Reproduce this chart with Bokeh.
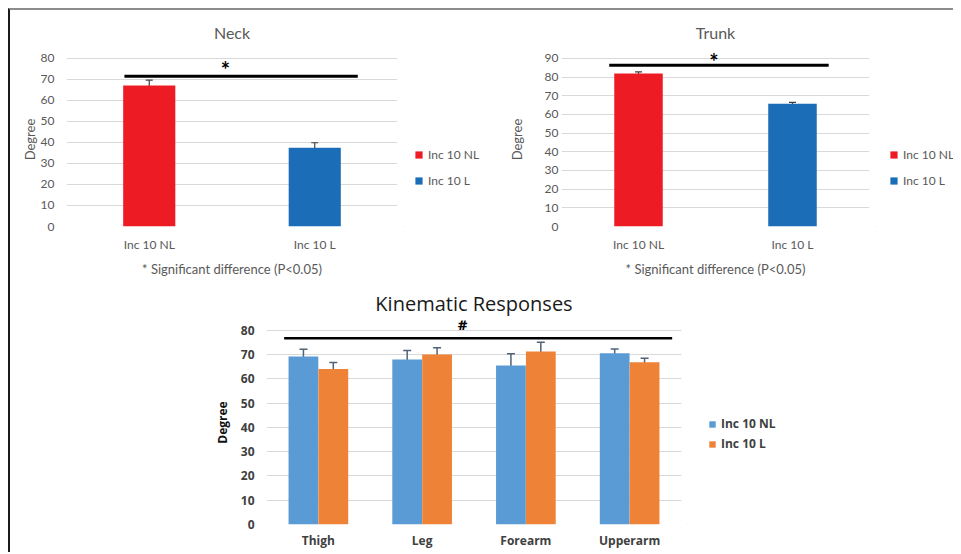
from bokeh.plotting import figure
from bokeh.models import (FactorRange, Range1d, Legend, LegendItem, Whisker, ColumnDataSource,
                          Label, FixedTicker, Spacer, TeeHead)
from bokeh.layouts import row, column
from bokeh.transform import dodge
from bokeh.embed import file_html
from bokeh.resources import INLINE

# ---------------- data ----------------
pair_groups = ["Inc 10 NL", "Inc 10 L"]
neck_mean = [67.0, 37.4]
neck_err = [2.5, 2.4]
trunk_mean = [82.0, 65.8]
trunk_err = [0.8, 0.7]
pair_colors = ["#ED1C24", "#1A6DB6"]

kin_groups = ["Thigh", "Leg", "Forearm", "Upperarm"]
kin_nl_mean = [69.2, 67.9, 65.5, 70.5]
kin_nl_err = [3.0, 3.7, 4.8, 1.8]
kin_l_mean = [64.0, 70.0, 71.2, 66.8]
kin_l_err = [2.7, 2.8, 3.8, 1.7]
kin_series = ["Inc 10 NL", "Inc 10 L"]
kin_colors = ["#5B9BD5", "#EE8237"]

neck_ticks = [0, 10, 20, 30, 40, 50, 60, 70, 80]
trunk_ticks = [0, 10, 20, 30, 40, 50, 60, 70, 80, 90]
kin_ticks = [0, 10, 20, 30, 40, 50, 60, 70, 80]

# significance annotations (value space)
neck_sig = dict(x0=0.35, x1=1.76, y=71.4, sx=0.96, sy=74.6, mark="*")
trunk_sig = dict(x0=0.31, x1=1.735, y=86.4, sx=0.99, sy=88.2, mark="*")
kin_sig = dict(x0=0.17, x1=3.91, y=76.7, sx=1.89, sy=82.6, mark="#")
footnote = "* Significant difference (P<0.05)"

GRAY = "#595959"
FONT = "Lato"
KFONT = "Open Sans"


def style_common(p):
    p.outline_line_color = None
    p.xgrid.grid_line_color = None
    p.ygrid.grid_line_color = "#d9d9d9"
    p.ygrid.grid_line_width = 1
    for ax in (p.xaxis[0], p.yaxis[0]):
        ax.axis_line_color = None
        ax.major_tick_line_color = None
        ax.minor_tick_line_color = None
        ax.major_tick_out = 0
        ax.major_tick_in = 0


def legend_fig(labels, colors, W, H, loc, spacing, glyph, font, style, color):
    # a small companion canvas that only carries the legend (swatches sit outside its visible range)
    lf = figure(width=W, height=H, x_range=Range1d(0, 1), y_range=Range1d(0, 1),
                min_border=0, toolbar_location=None, output_backend="svg")
    lf.axis.visible = False
    lf.grid.grid_line_color = None
    lf.outline_line_color = None
    items = []
    for lab, col in zip(labels, colors):
        r = lf.vbar(x=[-5], top=[-5], width=0.1, fill_color=col, line_color=None)
        items.append(LegendItem(label=lab, renderers=[r]))
    leg = Legend(items=items, location=loc, border_line_color=None, background_fill_alpha=0,
                 margin=0, padding=0, spacing=spacing, glyph_width=glyph, glyph_height=glyph,
                 label_height=14, label_standoff=5, label_text_font=font, label_text_font_size="12px",
                 label_text_font_style=style, label_text_color=color)
    lf.add_layout(leg)
    return lf


def pair_fig(title, means, errs, ticks, ymax, W, H, left, right, top, bottom,
             title_off, title_standoff, ytick_standoff, ylab_standoff, sig):
    p = figure(x_range=FactorRange(*pair_groups), y_range=Range1d(0, ymax),
               width=W, height=H, min_border_left=left, min_border_right=right,
               min_border_top=top, min_border_bottom=bottom,
               toolbar_location=None, output_backend="svg", title=title)
    style_common(p)
    p.title.align = "center"
    p.title.offset = title_off
    p.title.text_font = FONT
    p.title.text_font_size = "16px"
    p.title.text_font_style = "normal"
    p.title.text_color = GRAY
    p.title.standoff = title_standoff

    src = ColumnDataSource(dict(x=pair_groups, top=means, color=pair_colors,
                                upper=[m + e for m, e in zip(means, errs)],
                                lower=[m - e for m, e in zip(means, errs)]))
    p.vbar(x="x", top="top", width=0.315, fill_color="color", line_color=None, source=src)
    w = Whisker(base="x", upper="upper", lower="lower", source=src, line_color="#404040", line_width=1.2,
                upper_head=TeeHead(size=7, line_color="#404040", line_width=1.2),
                lower_head=TeeHead(size=7, line_color="#404040", line_width=1.2))
    p.add_layout(w)

    p.segment(x0=[sig["x0"]], x1=[sig["x1"]], y0=[sig["y"]], y1=[sig["y"]], line_color="black", line_width=3)
    p.add_layout(Label(x=sig["sx"], y=sig["sy"], text=sig["mark"], text_align="center", text_baseline="middle",
                       text_font=FONT, text_font_size="22px", text_font_style="bold", text_color="black"))

    p.yaxis.ticker = FixedTicker(ticks=ticks)
    p.yaxis.axis_label = "Degree"
    p.yaxis.axis_label_text_font = FONT
    p.yaxis.axis_label_text_font_size = "13px"
    p.yaxis.axis_label_text_font_style = "normal"
    p.yaxis.axis_label_text_color = GRAY
    p.yaxis.axis_label_standoff = ylab_standoff
    p.yaxis.major_label_standoff = ytick_standoff
    p.yaxis.major_label_text_font = FONT
    p.yaxis.major_label_text_font_size = "12px"
    p.yaxis.major_label_text_color = GRAY

    p.xaxis.axis_label = footnote
    p.xaxis.axis_label_text_font = FONT
    p.xaxis.axis_label_text_font_size = "13px"
    p.xaxis.axis_label_text_font_style = "normal"
    p.xaxis.axis_label_text_color = GRAY
    p.xaxis.axis_label_standoff = 6
    p.xaxis.major_label_standoff = 10
    p.xaxis.major_label_text_font = FONT
    p.xaxis.major_label_text_font_size = "12px"
    p.xaxis.major_label_text_color = GRAY
    return p


neck = pair_fig("Neck", neck_mean, neck_err, neck_ticks, 82.67, 393, 270, 56, 6, 42, 54,
                15, 21, 12, 0, neck_sig)
neck_leg = legend_fig(pair_groups, pair_colors, 79, 270, (11, 38), 11, 9, FONT, "normal", GRAY)
trunk = pair_fig("Trunk", trunk_mean, trunk_err, trunk_ticks, 93.2, 393, 270, 79, 6, 42, 54,
                 25, 21, 3, 17, trunk_sig)
trunk_leg = legend_fig(pair_groups, pair_colors, 78, 270, (14, 38), 11, 9, FONT, "normal", GRAY)

# ---------------- kinematic ----------------
kp = figure(x_range=FactorRange(*kin_groups), y_range=Range1d(0, 84), width=487, height=272,
            min_border_left=66, min_border_right=6, min_border_top=40, min_border_bottom=28,
            toolbar_location=None, output_backend="svg", title="Kinematic Responses")
style_common(kp)
kp.title.align = "center"
kp.title.offset = 21
kp.title.text_font = KFONT
kp.title.text_font_size = "20px"
kp.title.text_font_style = "normal"
kp.title.text_color = "#1a1a1a"
kp.title.standoff = 8

ksrc = ColumnDataSource(dict(
    x=kin_groups, nl=kin_nl_mean, l=kin_l_mean,
    nl_up=[m + e for m, e in zip(kin_nl_mean, kin_nl_err)],
    nl_lo=[m - e for m, e in zip(kin_nl_mean, kin_nl_err)],
    l_up=[m + e for m, e in zip(kin_l_mean, kin_l_err)],
    l_lo=[m - e for m, e in zip(kin_l_mean, kin_l_err)],
))
off = 0.144
kp.vbar(x=dodge("x", -off, range=kp.x_range), top="nl", width=0.287, fill_color=kin_colors[0],
        line_color=None, source=ksrc)
kp.vbar(x=dodge("x", off, range=kp.x_range), top="l", width=0.287, fill_color=kin_colors[1],
        line_color=None, source=ksrc)
wc = "#4F6379"
for d, up, lo in ((-off, "nl_up", "nl_lo"), (off, "l_up", "l_lo")):
    kp.add_layout(Whisker(base=dodge("x", d, range=kp.x_range), upper=up, lower=lo, source=ksrc,
                          line_color=wc, line_width=1.5,
                          upper_head=TeeHead(size=8, line_color=wc, line_width=1.5),
                          lower_head=TeeHead(size=8, line_color=wc, line_width=1.5)))

kp.segment(x0=[kin_sig["x0"]], x1=[kin_sig["x1"]], y0=[kin_sig["y"]], y1=[kin_sig["y"]],
           line_color="black", line_width=2.5)
kp.add_layout(Label(x=kin_sig["sx"], y=kin_sig["sy"], text=kin_sig["mark"], text_align="center",
                    text_baseline="middle", text_font=KFONT, text_font_size="15px",
                    text_font_style="bold", text_color="black"))

kp.yaxis.ticker = FixedTicker(ticks=kin_ticks)
kp.yaxis.axis_label = "Degree"
kp.yaxis.axis_label_text_font = KFONT
kp.yaxis.axis_label_text_font_size = "12px"
kp.yaxis.axis_label_text_font_style = "bold"
kp.yaxis.axis_label_text_color = "#111111"
kp.yaxis.axis_label_standoff = 7
kp.yaxis.major_label_standoff = 12
kp.yaxis.major_label_text_font = KFONT
kp.yaxis.major_label_text_font_size = "12px"
kp.yaxis.major_label_text_font_style = "bold"
kp.yaxis.major_label_text_color = "#404040"
kp.xaxis.major_label_standoff = 7
kp.xaxis.major_label_text_font = KFONT
kp.xaxis.major_label_text_font_size = "12px"
kp.xaxis.major_label_text_font_style = "bold"
kp.xaxis.major_label_text_color = "#404040"

kin_leg = legend_fig(kin_series, kin_colors, 103, 272, (21, 72), 3, 8, KFONT, "bold", "#404040")

page = column(row(neck, neck_leg, trunk, trunk_leg),
              row(Spacer(width=190, height=272), kp, kin_leg),
              styles={"margin-left": "8px", "margin-top": "8px",
                      "border-top": "2px solid #8c8c8c", "border-left": "2px solid #1a1a1a"})

open("out.html", "w").write(file_html(page, INLINE))
